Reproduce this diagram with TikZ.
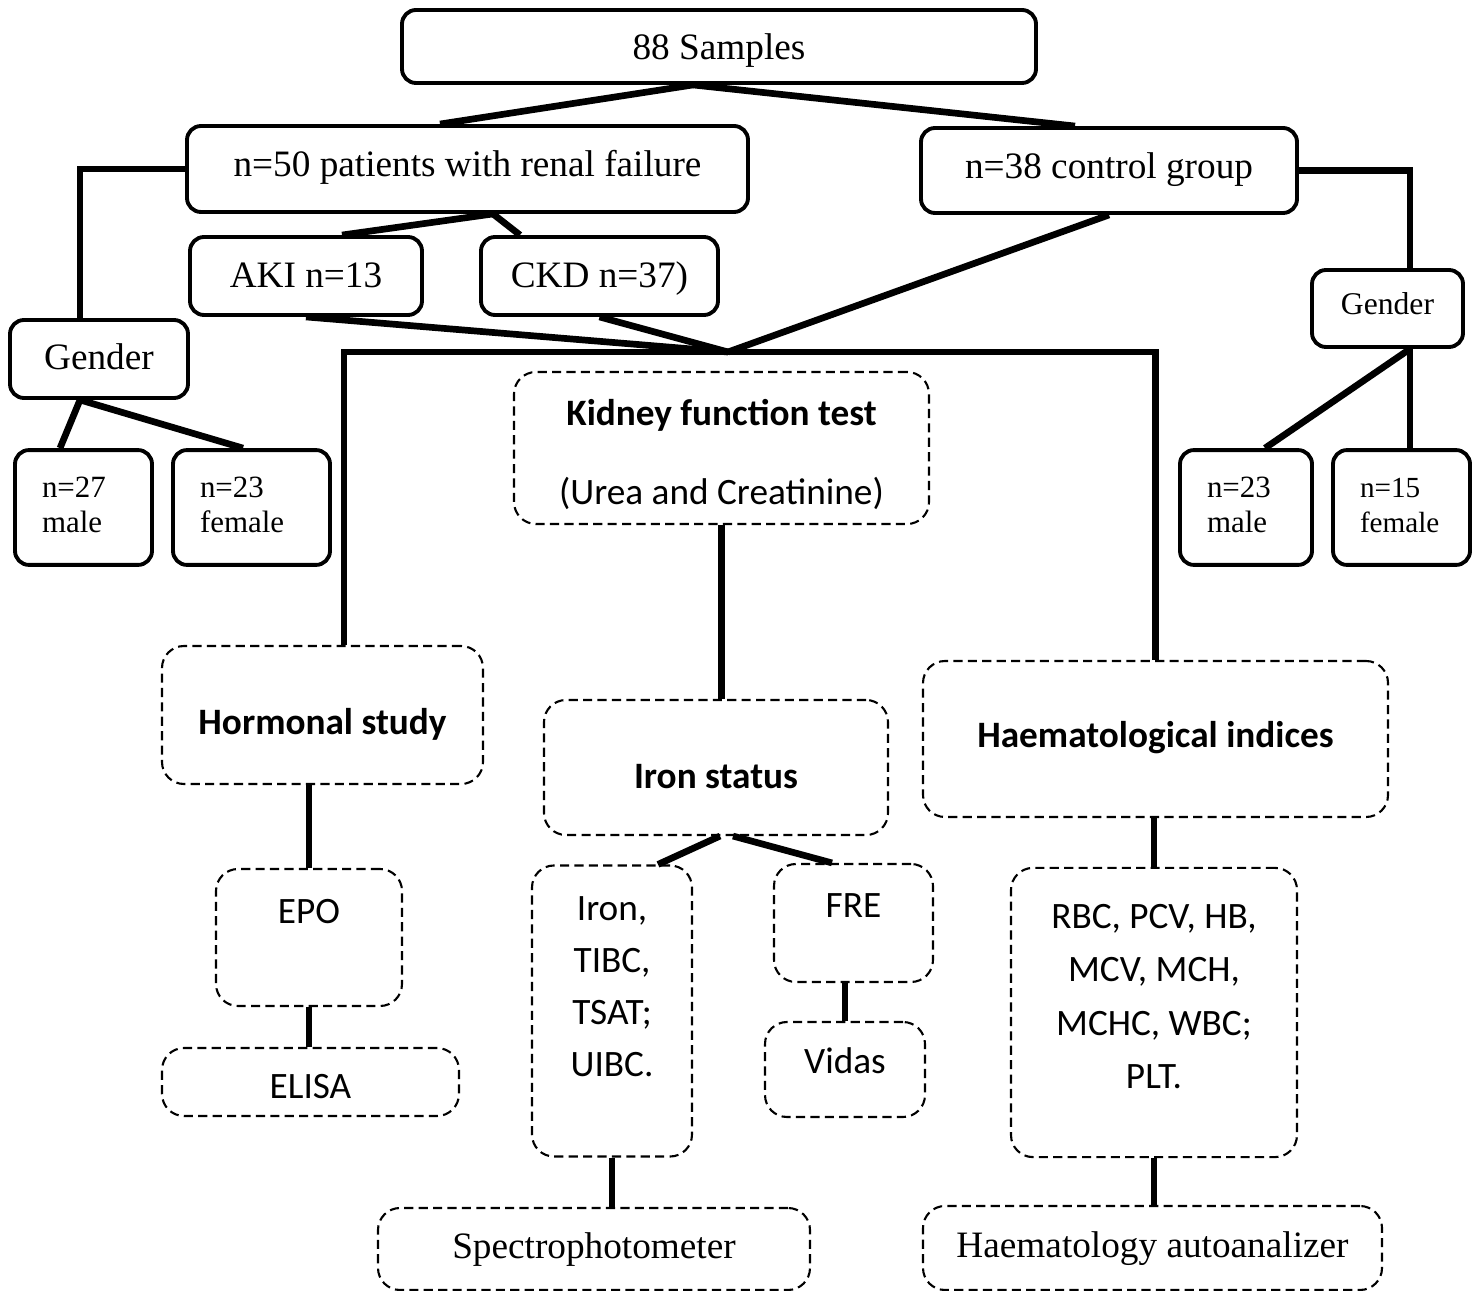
\documentclass[tikz,border=0pt]{standalone}
\usepackage{fontspec}
\setmainfont{Liberation Serif}
\setsansfont{Carlito}
\newcommand{\padtop}[1]{\rule{0pt}{#1}}
\newcommand{\padbot}[1]{\rule[-#1]{0pt}{#1}}
\tikzset{
    sbox/.style={draw, line width=1.1pt, rounded corners=1.4mm, inner ysep=0pt,
        font=\fontsize{10.6}{12.7}\selectfont},
    dbox/.style={draw, line width=0.6pt, dash pattern=on 2.6pt off 1.5pt,
        rounded corners=2.2mm, inner ysep=0pt, font=\sffamily\fontsize{10.6}{12.7}\selectfont},
    sexbox/.style={sbox, align=left, inner xsep=2.7mm, text width=#1,
        font=\fontsize{8.8}{10.2}\selectfont},
    th/.style 2 args={text height=#1, text depth=#2},
    link/.style={line width=1.9pt}
}

\begin{document}
\begin{tikzpicture}
    \useasboundingbox (0,0) rectangle (14.78,-12.91);

    \node[sbox, minimum width=6.34cm, th={0.50cm}{0.23cm}] (SAMPLES) at (7.19,-0.465) {88 Samples};
    \node[sbox, minimum width=5.61cm, th={0.51cm}{0.35cm}] (PATIENTS) at (4.675,-1.69) {n=50 patients with renal failure};
    \node[sbox, minimum width=3.76cm, th={0.51cm}{0.34cm}] (CONTROL) at (11.09,-1.705) {n=38 control group};
    \node[sbox, minimum width=2.32cm, th={0.51cm}{0.27cm}] (AKI) at (3.06,-2.76) {AKI n=13};
    \node[sbox, minimum width=2.37cm, th={0.51cm}{0.27cm}] (CKD) at (5.995,-2.76) {CKD n=37)};

    \node[sbox, minimum width=1.78cm, th={0.50cm}{0.28cm}] (GENDERL) at (0.99,-3.59) {Gender};
    \node[sexbox=0.83cm] (MALEL) at (0.835,-5.075) {\padtop{0.47cm}n=27\\male\padbot{0.32cm}};
    \node[sexbox=1.03cm] (FEMALEL) at (2.515,-5.075) {\padtop{0.47cm}n=23\\female\padbot{0.32cm}};

    \node[sbox, minimum width=1.51cm, th={0.45cm}{0.32cm}, font=\fontsize{9}{11}\selectfont] (GENDERR) at (13.875,-3.085) {Gender};
    \node[sexbox=0.78cm] (MALER) at (12.46,-5.075) {\padtop{0.47cm}n=23\\male\padbot{0.32cm}};
    \node[sexbox=0.83cm, font=\fontsize{8.3}{10.2}\selectfont] (FEMALER) at (14.015,-5.075) {\padtop{0.47cm}n=15\\female\padbot{0.32cm}};

    \node[dbox, minimum width=4.15cm, align=center, font=\sffamily\fontsize{10.6}{22.2}\selectfont] (KFT) at (7.215,-4.48)
        {\padtop{0.54cm}\textbf{Kidney function test}\\(Urea and Creatinine)\padbot{0.20cm}};
    \node[dbox, minimum width=3.21cm, th={0.89cm}{0.49cm}] (HORMONE) at (3.225,-7.15) {\textbf{Hormonal study}};
    \node[dbox, minimum width=3.44cm, th={0.88cm}{0.47cm}] (IRON) at (7.16,-7.675) {\textbf{Iron status}};
    \node[dbox, minimum width=4.65cm, th={0.87cm}{0.69cm}] (HAEM) at (11.555,-7.39) {\textbf{Haematological indices}};

    \node[dbox, minimum width=1.86cm, th={0.54cm}{0.83cm}] (EPO) at (3.09,-9.375) {EPO};
    \node[dbox, minimum width=2.97cm, th={0.50cm}{0.18cm}] (ELISA) at (3.105,-10.82) {ELISA};
    \node[dbox, minimum width=1.60cm, align=center, font=\sffamily\fontsize{10.6}{14.8}\selectfont] (IRONLIST) at (6.12,-10.11)
        {\padtop{0.55cm}Iron,\\TIBC,\\TSAT;\\UIBC.\padbot{0.80cm}};
    \node[dbox, minimum width=1.59cm, th={0.53cm}{0.65cm}] (FRE) at (8.535,-9.23) {FRE};
    \node[dbox, minimum width=1.60cm, th={0.51cm}{0.44cm}] (VIDAS) at (8.45,-10.695) {Vidas};
    \node[dbox, minimum width=2.86cm, align=center, font=\sffamily\fontsize{10.6}{15.1}\selectfont] (BLOOD) at (11.54,-10.125)
        {\padtop{0.61cm}RBC, PCV, HB,\\MCV, MCH,\\MCHC, WBC;\\PLT.\padbot{0.69cm}};
    \node[dbox, minimum width=4.32cm, th={0.50cm}{0.32cm}, font=\rmfamily\fontsize{10.6}{12.7}\selectfont] (SPECTRO) at (5.94,-12.49) {Spectrophotometer};
    \node[dbox, minimum width=4.59cm, th={0.51cm}{0.33cm}, font=\rmfamily\fontsize{10.6}{12.7}\selectfont] (ANALYZER) at (11.525,-12.48) {Haematology autoanalizer};

    \coordinate (SPLIT) at ([xshift=-2.6mm]SAMPLES.south);
    \coordinate (FORK) at ([xshift=2.55mm]PATIENTS.south);
    \coordinate (HUB) at (7.28,-3.52);

    \draw[link] (SPLIT) -- ([xshift=-2.75mm]PATIENTS.north);
    \draw[link] (SPLIT) -- ([xshift=-3.4mm]CONTROL.north);
    \draw[link] (FORK) -- ([xshift=3.6mm]AKI.north);
    \draw[link] (FORK) -- ([xshift=-7.95mm]CKD.north);

    \draw[link] (PATIENTS.west) -| ([xshift=-1.9mm]GENDERL.north);
    \draw[link] ([xshift=-1.9mm]GENDERL.south) -- ([xshift=-2.35mm]MALEL.north);
    \draw[link] ([xshift=-1.9mm]GENDERL.south) -- ([xshift=-0.85mm]FEMALEL.north);
    \draw[link] (CONTROL.east) -| ([xshift=2.25mm]GENDERR.north);
    \draw[link] ([xshift=2.25mm]GENDERR.south) -- ([xshift=1.9mm]MALER.north);
    \draw[link] ([xshift=2.25mm]GENDERR.south) -- ([xshift=0.85mm]FEMALER.north);

    \draw[link] (AKI.south) -- (HUB);
    \draw[link] (CKD.south) -- (HUB);
    \draw[link] (CONTROL.south) -- (HUB);
    \draw[link] ([xshift=2.15mm]HORMONE.north) |- (HUB) -| (HAEM.north);

    \draw[link] (KFT.south) -- (KFT.south |- IRON.north);
    \draw[link] ([xshift=0.4mm]IRON.south) -- ([xshift=4.6mm]IRONLIST.north);
    \draw[link] ([xshift=1.7mm]IRON.south) -- ([xshift=-2.15mm]FRE.north);
    \draw[link] (EPO.north |- HORMONE.south) -- (EPO.north);
    \draw[link] (EPO.south) -- (EPO.south |- ELISA.north);
    \draw[link] (VIDAS.north |- FRE.south) -- (VIDAS.north);
    \draw[link] (IRONLIST.south) -- (IRONLIST.south |- SPECTRO.north);
    \draw[link] (BLOOD.north |- HAEM.south) -- (BLOOD.north);
    \draw[link] (BLOOD.south) -- (BLOOD.south |- ANALYZER.north);
\end{tikzpicture}
\end{document}
